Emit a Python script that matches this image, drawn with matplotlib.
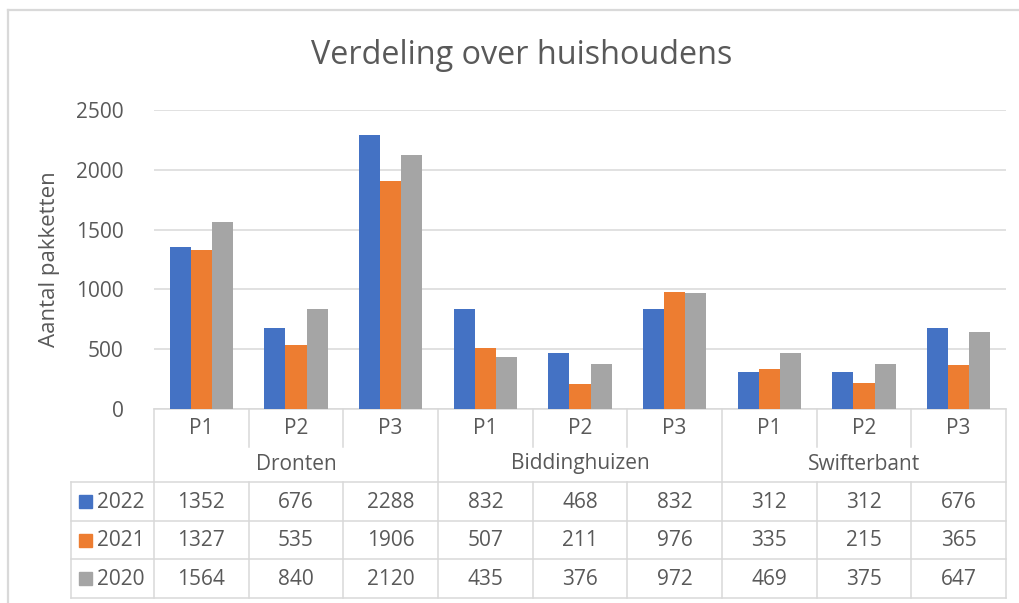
import matplotlib
matplotlib.use("Agg")
import matplotlib.pyplot as plt
import matplotlib.patches as mpatches
from matplotlib.transforms import blended_transform_factory
import numpy as np

# data
cities = ["Dronten", "Biddinghuizen", "Swifterbant"]
periods = ["P1", "P2", "P3"]
years = ["2022", "2021", "2020"]
values_2022 = [1352, 676, 2288, 832, 468, 832, 312, 312, 676]
values_2021 = [1327, 535, 1906, 507, 211, 976, 335, 215, 365]
values_2020 = [1564, 840, 2120, 435, 376, 972, 469, 375, 647]
series = [values_2022, values_2021, values_2020]
colors = ["#4472c4", "#ed7d31", "#a5a5a5"]

title = "Verdeling over huishoudens"
ylabel = "Aantal pakketten"
yticks = [0, 500, 1000, 1500, 2000, 2500]

plt.rcParams['font.family'] = ['Open Sans', 'DejaVu Sans']
text_color = "#595959"
line_color = "#d9d9d9"

W, H = 1019, 603
fig = plt.figure(figsize=(W / 100, H / 100), dpi=100)

# overlay axes in pixel coordinates (for frame + table rows)
over = fig.add_axes([0, 0, 1, 1])
over.set_xlim(0, W)
over.set_ylim(H, 0)
over.axis("off")

# main plot area
left_px, right_px, top_px, zero_px = 154, 1006, 110, 409
ax = fig.add_axes([left_px / W, (H - zero_px) / H,
                   (right_px - left_px) / W, (zero_px - top_px) / H])
ax.set_zorder(2)
ax.patch.set_alpha(0)

n = len(values_2022)
x = np.arange(n)
bw = 0.223
for k, (vals, c) in enumerate(zip(series, colors)):
    ax.bar(x + (k - 1) * bw, vals, width=bw, color=c, zorder=3)

ax.set_xlim(-0.5, n - 0.5)
ax.set_ylim(0, 2500)
ax.set_yticks(yticks)
ax.set_yticklabels([str(v) for v in yticks], fontsize=15, color=text_color)
ax.tick_params(axis="y", length=0, pad=22)
ax.set_xticks([])
for s in ax.spines.values():
    s.set_visible(False)
ax.grid(axis="y", color=line_color, linewidth=1.1, zorder=0)
ax.set_ylabel(ylabel, fontsize=16, color=text_color, labelpad=11)

fig.text(522 / W, 1 - 55 / H, title, fontsize=23.3, color=text_color,
         ha="center", va="center")

# chart border
over.plot([8, 8], [10, H], color=line_color, lw=1.6)
over.plot([8, W], [10, 10], color=line_color, lw=1.6)

# data table
tr = blended_transform_factory(ax.transData, over.transData)
lw = 1.1
p_top, p_sep_end, city_bot = 409, 447, 482
row_bots = [521, 559, 598]
bounds = np.arange(n + 1) - 0.5

over.plot([left_px, right_px], [p_top, p_top], color=line_color, lw=lw)
over.plot([71, right_px], [city_bot, city_bot], color=line_color, lw=lw)
for yb in row_bots:
    over.plot([71, right_px], [yb, yb], color=line_color, lw=lw)
over.plot([71, 71], [city_bot, row_bots[-1]], color=line_color, lw=lw)
for i, b in enumerate(bounds):
    if i % 3 == 0:
        over.plot([b, b], [p_top, row_bots[-1]], color=line_color, lw=lw, transform=tr)
    else:
        over.plot([b, b], [p_top, p_sep_end], color=line_color, lw=lw, transform=tr)
        over.plot([b, b], [city_bot, row_bots[-1]], color=line_color, lw=lw, transform=tr)

for i in range(n):
    over.text(i, 428, periods[i % 3], transform=tr, ha="center", va="center",
              fontsize=15, color=text_color)
for j, city in enumerate(cities):
    over.text(3 * j + 1, 464, city, transform=tr, ha="center", va="center",
              fontsize=15, color=text_color)

row_tops = [city_bot] + row_bots[:-1]
for r, (yr, vals, c) in enumerate(zip(years, series, colors)):
    yc = (row_tops[r] + row_bots[r]) / 2
    over.add_patch(mpatches.Rectangle((79, yc - 6.5), 13, 13, color=c))
    over.text(97, yc + 1, yr, ha="left", va="center", fontsize=15, color=text_color)
    for i in range(n):
        over.text(i, yc + 1, str(vals[i]), transform=tr, ha="center", va="center",
                  fontsize=15, color=text_color)

fig.savefig("out.png", dpi=100)
